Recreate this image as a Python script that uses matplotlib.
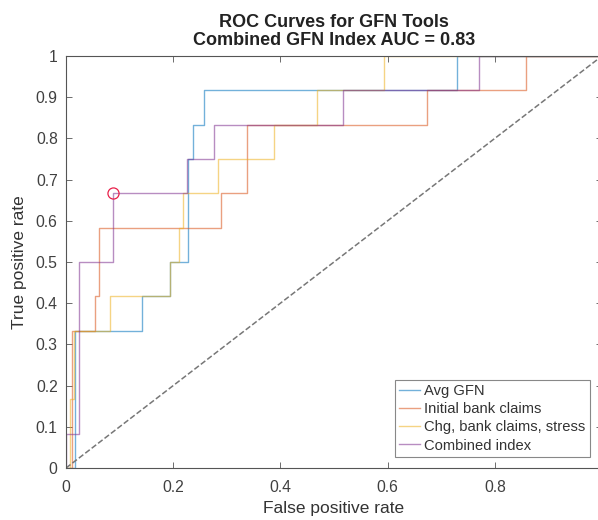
import matplotlib
matplotlib.use('Agg')
import matplotlib.pyplot as plt
import numpy as np

plt.rcParams['font.family'] = ['Liberation Sans', 'DejaVu Sans']

# ROC curve vertices
avg_fpr = [0, 0.017, 0.017, 0.142, 0.142, 0.194, 0.194, 0.228, 0.228, 0.237, 0.237,
           0.257, 0.257, 0.729, 0.729, 1]
avg_tpr = [0, 0, 0.333, 0.333, 0.417, 0.417, 0.5, 0.5, 0.75, 0.75, 0.833,
           0.833, 0.917, 0.917, 1, 1]

bank_fpr = [0, 0.012, 0.012, 0.054, 0.054, 0.062, 0.062, 0.29, 0.29, 0.337, 0.337,
            0.673, 0.673, 0.858, 0.858, 1]
bank_tpr = [0, 0, 0.333, 0.333, 0.417, 0.417, 0.583, 0.583, 0.667, 0.667, 0.833,
            0.833, 0.917, 0.917, 1, 1]

chg_fpr = [0, 0.0075, 0.0075, 0.015, 0.015, 0.082, 0.082, 0.194, 0.194, 0.211, 0.211,
           0.218, 0.218, 0.284, 0.284, 0.388, 0.388, 0.468, 0.468, 0.594, 0.594, 1]
chg_tpr = [0, 0, 0.167, 0.167, 0.333, 0.333, 0.417, 0.417, 0.5, 0.5, 0.583,
           0.583, 0.667, 0.667, 0.75, 0.75, 0.833, 0.833, 0.917, 0.917, 1, 1]

comb_fpr = [0, 0, 0.024, 0.024, 0.088, 0.088, 0.226, 0.226, 0.276, 0.276,
            0.517, 0.517, 0.771, 0.771, 1]
comb_tpr = [0, 0.083, 0.083, 0.5, 0.5, 0.667, 0.667, 0.75, 0.75, 0.833,
            0.833, 0.917, 0.917, 1, 1]

opt_point = (0.088, 0.667)

labels = ['Avg GFN', 'Initial bank claims', 'Chg, bank claims, stress', 'Combined index']
colors = ['#0072bd', '#d95319', '#edb120', '#7e2f8e']
x_ticks = [0, 0.2, 0.4, 0.6, 0.8, 1]
x_ticklabels = ['0', '0.2', '0.4', '0.6', '0.8', '']  # the "1" falls past the crop
y_ticks = np.round(np.arange(0, 1.01, 0.1), 1)
y_ticklabels = ['0', '0.1', '0.2', '0.3', '0.4', '0.5', '0.6', '0.7', '0.8', '0.9', '1']

W, H = 598, 520
fig = plt.figure(figsize=(W / 100, H / 100), dpi=100)
ax = fig.add_axes([66 / W, 52 / H, 536 / W, 412 / H])

curves = [(avg_fpr, avg_tpr), (bank_fpr, bank_tpr), (chg_fpr, chg_tpr), (comb_fpr, comb_tpr)]
for (fx, ty), c, lab in zip(curves, colors, labels):
    ax.plot(fx, ty, color=c, lw=1.0, alpha=0.55, label=lab)

ax.plot([0, 1], [0, 1], '--', color='#777777', lw=1.1)
ax.plot(opt_point[0], opt_point[1], 'o', mfc='none', mec='#e8204a', ms=8, mew=0.9)

ax.set_xlim(0, 1)
ax.set_ylim(0, 1)
ax.set_xticks(x_ticks)
ax.set_xticklabels(x_ticklabels)
ax.set_yticks(y_ticks)
ax.set_yticklabels(y_ticklabels)
ax.tick_params(direction='in', length=4, width=0.6, colors='#555555',
               labelcolor='#404040', labelsize=11.3, top=True, right=True)
ax.tick_params(axis='x', pad=9)
ax.tick_params(axis='y', pad=6)
for s in ax.spines.values():
    s.set_color('#555555')
    s.set_linewidth(0.8)

ax.set_xlabel('False positive rate', fontsize=12.5, color='#333333', labelpad=4)
ax.set_ylabel('True positive rate', fontsize=12.5, color='#333333', labelpad=6)
ax.set_title('ROC Curves for GFN Tools\nCombined GFN Index AUC = 0.83',
             fontsize=13, fontweight='bold', color='#222222', pad=8, linespacing=1.1)

leg = ax.legend(loc='lower right', bbox_to_anchor=(590 / W, (H - 457) / H),
                bbox_transform=fig.transFigure, borderaxespad=0, fontsize=10.6,
                handlelength=1.4, handletextpad=0.3, fancybox=False, framealpha=1,
                edgecolor='#888888', borderpad=0.3, labelspacing=0.28)
leg.get_frame().set_linewidth(0.8)
for t in leg.get_texts():
    t.set_color('#333333')

fig.savefig('out.png', dpi=100)
